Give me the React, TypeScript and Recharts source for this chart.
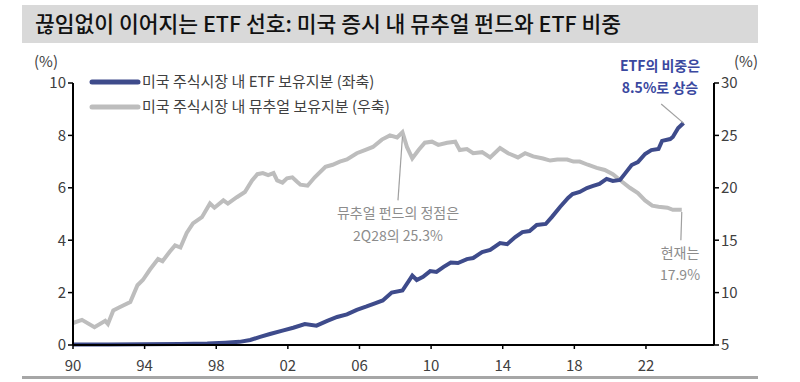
import { LineChart, Line, XAxis, YAxis, ReferenceLine } from "recharts";

const TITLE = "끊임없이 이어지는 ETF 선호: 미국 증시 내 뮤추얼 펀드와 ETF 비중";
const ETF_NAME = "미국 주식시장 내 ETF 보유지분 (좌축)";
const MF_NAME = "미국 주식시장 내 뮤추얼 보유지분 (우축)";

// ETF share of US equities (left axis, %)
const etfYears = [
  1990, 1992, 1994, 1996, 1997.5, 1998.5, 1999.3, 1999.9, 2000.45, 2001.0, 2001.7, 2002.3,
  2002.95, 2003.6, 2004.2, 2004.75, 2005.3, 2005.85, 2006.4, 2006.9, 2007.3, 2007.8, 2008.4,
  2008.95, 2009.2, 2009.55, 2009.95, 2010.3, 2010.7, 2011.1, 2011.5, 2012.0, 2012.35, 2012.85,
  2013.3, 2013.85, 2014.25, 2014.7, 2015.1, 2015.5, 2015.9, 2016.4, 2016.75, 2017.2, 2017.65,
  2017.9, 2018.3, 2018.7, 2019.05, 2019.4, 2019.8, 2020.15, 2020.55, 2020.85, 2021.2, 2021.55,
  2021.95, 2022.3, 2022.7, 2022.9, 2023.35, 2023.5, 2023.8, 2024.1,
];
const etfShare = [
  0.02, 0.02, 0.03, 0.04, 0.06, 0.09, 0.12, 0.19, 0.31, 0.42, 0.55, 0.66,
  0.8, 0.74, 0.92, 1.07, 1.17, 1.34, 1.47, 1.6, 1.7, 2.0, 2.08,
  2.65, 2.48, 2.6, 2.82, 2.79, 2.98, 3.15, 3.13, 3.28, 3.32, 3.55,
  3.63, 3.89, 3.85, 4.12, 4.31, 4.35, 4.58, 4.62, 4.89, 5.27, 5.61,
  5.76, 5.84, 5.99, 6.07, 6.15, 6.34, 6.26, 6.3, 6.56, 6.87, 6.98,
  7.29, 7.44, 7.48, 7.79, 7.86, 7.94, 8.28, 8.47,
];

// Mutual fund share of US equities (right axis, %)
const mfYears = [
  1990, 1990.5, 1991.2, 1991.8, 1991.95, 1992.25, 1992.6, 1993.2, 1993.6, 1993.9, 1994.3, 1994.75,
  1995.0, 1995.4, 1995.7, 1996.0, 1996.35, 1996.7, 1997.2, 1997.65, 1997.9, 1998.4, 1998.65,
  1999.15, 1999.6, 2000.0, 2000.3, 2000.6, 2000.9, 2001.2, 2001.4, 2001.7, 2001.95, 2002.25,
  2002.5, 2002.7, 2003.1, 2003.5, 2004.1, 2004.5, 2004.9, 2005.3, 2005.85, 2006.3, 2006.75,
  2007.25, 2007.7, 2008.1, 2008.4, 2008.65, 2008.95, 2009.3, 2009.65, 2010.05, 2010.4, 2010.9,
  2011.35, 2011.6, 2012.0, 2012.35, 2012.85, 2013.3, 2013.85, 2014.3, 2014.85, 2015.25, 2015.7,
  2016.25, 2016.65, 2017.05, 2017.6, 2017.95, 2018.3, 2018.75, 2019.25, 2019.7, 2020.15, 2020.65,
  2021.1, 2021.55, 2021.95, 2022.35, 2022.7, 2023.2, 2023.5, 2024.0,
];
const mfShare = [
  7.1, 7.4, 6.7, 7.3, 7.0, 8.3, 8.6, 9.1, 10.7, 11.2, 12.2, 13.2,
  13.0, 13.9, 14.5, 14.3, 15.7, 16.6, 17.2, 18.5, 18.1, 18.8, 18.5,
  19.1, 19.6, 20.7, 21.3, 21.4, 21.2, 21.4, 20.7, 20.5, 20.9, 21.0,
  20.6, 20.3, 20.2, 21.0, 22.0, 22.2, 22.5, 22.7, 23.3, 23.6, 23.9,
  24.6, 25.0, 24.8, 25.3, 23.9, 22.8, 23.6, 24.3, 24.4, 24.1, 24.3,
  24.4, 23.6, 23.7, 23.3, 23.4, 22.9, 23.8, 23.3, 22.9, 23.3, 23.0,
  22.8, 22.6, 22.7, 22.7, 22.5, 22.5, 22.2, 21.9, 21.7, 21.3, 20.6,
  20.0, 19.5, 18.8, 18.3, 18.2, 18.1, 17.9, 17.9,
];

const xTicks = [1990, 1994, 1998, 2002, 2006, 2010, 2014, 2018, 2022];
const leftTicks = [0, 2, 4, 6, 8, 10];
const rightTicks = [5, 10, 15, 20, 25, 30];

const BLUE = "#3e4b8b";
const GRAY = "#bdbdbd";
const FONT = "'Noto Sans CJK KR', 'Noto Sans', sans-serif";

// merge both series onto one numeric x axis
const rows = [
  ...etfYears.map((x, i) => ({ x, etf: etfShare[i] })),
  ...mfYears.map((x, i) => ({ x, mf: mfShare[i] })),
].sort((a, b) => a.x - b.x);

const tickStyle = { fontSize: 15, fill: "#404040", fontFamily: FONT };

export default function App() {
  return (
    <div style={{ position: "absolute", left: 0, top: 0, width: 800, height: 382, background: "#fff", fontFamily: FONT }}>
      <div style={{ position: "absolute", left: 22, top: 5, width: 736, height: 38, background: "#d9d9d9" }} />
      <div style={{ position: "absolute", left: 35, top: 7, fontSize: 21.5, fontWeight: 500, color: "#111", whiteSpace: "nowrap" }}>
        {TITLE}
      </div>
      <div style={{ position: "absolute", left: 22, top: 376, width: 736, height: 3, background: "#a6a6a6" }} />

      <div style={{ position: "absolute", left: 0, top: 0 }}>
        <LineChart width={800} height={382} data={rows} margin={{ top: 83, right: 46, bottom: 7, left: 33 }}>
          <XAxis
            dataKey="x"
            type="number"
            domain={[1990, 2025.8]}
            ticks={xTicks}
            tickFormatter={(v) => String(v % 100).padStart(2, "0")}
            axisLine={{ stroke: "#000", strokeWidth: 2 }}
            tickLine={{ stroke: "#000", strokeWidth: 1.5 }}
            tickSize={4}
            tickMargin={11}
            tick={tickStyle}
            height={30}
            interval={0}
          />
          <YAxis
            yAxisId="left"
            domain={[0, 10]}
            ticks={leftTicks}
            axisLine={{ stroke: "#000", strokeWidth: 2 }}
            tickLine={{ stroke: "#000", strokeWidth: 1.5 }}
            tickSize={5}
            tick={tickStyle}
            width={40}
            interval={0}
          />
          <YAxis
            yAxisId="right"
            orientation="right"
            domain={[5, 30]}
            ticks={rightTicks}
            axisLine={{ stroke: "#000", strokeWidth: 2 }}
            tickLine={{ stroke: "#000", strokeWidth: 1.5 }}
            tickSize={5}
            tick={tickStyle}
            width={40}
            interval={0}
          />
          <Line yAxisId="right" dataKey="mf" stroke={GRAY} strokeWidth={4} dot={false} connectNulls isAnimationActive={false} />
          <Line yAxisId="left" dataKey="etf" stroke={BLUE} strokeWidth={4} dot={false} connectNulls isAnimationActive={false} />
          <ReferenceLine yAxisId="left" segment={[{ x: 2022.85, y: 9.2 }, { x: 2024.1, y: 8.47 }]} stroke="#a0a0a0" strokeWidth={1.2} />
          <ReferenceLine yAxisId="right" segment={[{ x: 2008.4, y: 24.9 }, { x: 2008.15, y: 18.8 }]} stroke="#a0a0a0" strokeWidth={1.2} />
          <ReferenceLine yAxisId="right" segment={[{ x: 2024.0, y: 17.7 }, { x: 2023.95, y: 15.0 }]} stroke="#a0a0a0" strokeWidth={1.2} />
        </LineChart>
      </div>

      <svg width={800} height={382} style={{ position: "absolute", left: 0, top: 0, pointerEvents: "none" }}>
        <g fontFamily={FONT}>
          <text x={46} y={67} fontSize={15} fill="#404040" textAnchor="middle">(%)</text>
          <text x={746} y={67} fontSize={15} fill="#404040" textAnchor="middle">(%)</text>

          <line x1={92} y1={82} x2={138} y2={82} stroke={BLUE} strokeWidth={5} strokeLinecap="round" />
          <text x={142} y={87} fontSize={15} fill="#404040">{ETF_NAME}</text>
          <line x1={92} y1={107} x2={138} y2={107} stroke={GRAY} strokeWidth={5} strokeLinecap="round" />
          <text x={142} y={112} fontSize={15} fill="#404040">{MF_NAME}</text>

          <text x={660} y={71} fontSize={14} fontWeight={600} fill="#3a48a0" textAnchor="middle">ETF의 비중은</text>
          <text x={660} y={93} fontSize={14} fontWeight={600} fill="#3a48a0" textAnchor="middle">8.5%로 상승</text>

          <text x={398} y={218} fontSize={14} fill="#8c8c8c" textAnchor="middle">뮤추얼 펀드의 정점은</text>
          <text x={398} y={241} fontSize={14} fill="#8c8c8c" textAnchor="middle">2Q28의 25.3%</text>

          <text x={680} y={258} fontSize={14} fill="#8c8c8c" textAnchor="middle">현재는</text>
          <text x={680} y={280} fontSize={14} fill="#8c8c8c" textAnchor="middle">17.9%</text>
        </g>
      </svg>
    </div>
  );
}
